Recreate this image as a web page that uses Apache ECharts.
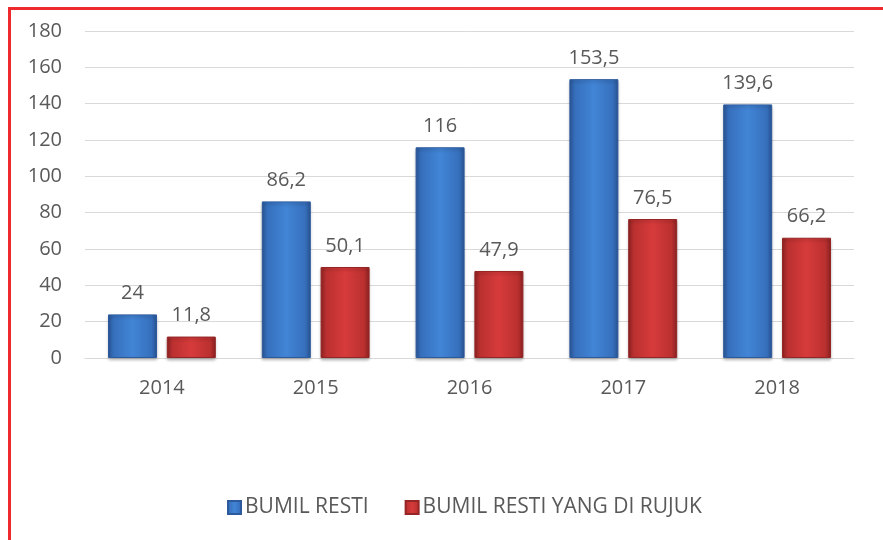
<!DOCTYPE html>
<html>
<head>
<meta charset="utf-8">
<script src="https://cdn.jsdelivr.net/npm/echarts@6/dist/echarts.min.js"></script>
<style>
html,body{margin:0;padding:0;background:#fff;}
#wrap{position:relative;width:883px;height:540px;overflow:hidden;}
#frame{position:absolute;left:8px;top:7px;width:900px;height:560px;border-left:3px solid #ee2a2f;border-top:3px solid #ee2a2f;}
#chart{position:absolute;left:0;top:0;width:883px;height:540px;}
</style>
</head>
<body>
<div id="wrap">
<div id="frame"></div>
<div id="chart"></div>
</div>
<script type="text/javascript">
var years = ['2014', '2015', '2016', '2017', '2018'];
var resti = [24, 86.2, 116, 153.5, 139.6];
var dirujuk = [11.8, 50.1, 47.9, 76.5, 66.2];

var chart = echarts.init(document.getElementById('chart'));

function shade(dark, mid, light) {
    return new echarts.graphic.LinearGradient(0, 0, 1, 0, [
        {offset: 0, color: dark},
        {offset: 0.12, color: mid},
        {offset: 0.5, color: light},
        {offset: 0.88, color: mid},
        {offset: 1, color: dark}
    ]);
}

var labelStyle = {
    show: true,
    position: 'top',
    distance: 11,
    color: '#595959',
    fontSize: 20,
    fontFamily: 'Open Sans',
    formatter: function (p) { return String(p.value).replace('.', ','); }
};

var option = {
    animation: false,
    textStyle: {fontFamily: 'Open Sans'},
    grid: {left: 85, right: 29, top: 31, bottom: 182},
    legend: {
        bottom: 17,
        left: 222,
        itemWidth: 13,
        itemHeight: 13,
        itemGap: 36,
        icon: 'rect',
        textStyle: {color: '#595959', fontSize: 21, fontFamily: 'Open Sans', padding: [0, 0, 0, -1]},
        data: ['BUMIL RESTI', 'BUMIL RESTI YANG DI RUJUK']
    },
    xAxis: {
        type: 'category',
        data: years,
        axisLine: {lineStyle: {color: '#d9d9d9', width: 1}},
        axisTick: {show: false},
        axisLabel: {color: '#595959', fontSize: 20, margin: 20}
    },
    yAxis: {
        type: 'value',
        min: 0,
        max: 180,
        interval: 20,
        axisLine: {show: false},
        axisTick: {show: false},
        axisLabel: {color: '#595959', fontSize: 20, margin: 23},
        splitLine: {lineStyle: {color: '#d9d9d9', width: 1}}
    },
    series: [
        {
            name: 'BUMIL RESTI',
            type: 'bar',
            data: resti,
            barWidth: 49,
            barGap: '20%',
            itemStyle: {
                color: shade('#2a5596', '#3670bd', '#4285d6'),
                borderColor: '#2c5a9c',
                borderWidth: 1,
                shadowColor: 'rgba(0,0,0,0.25)',
                shadowBlur: 3,
                shadowOffsetY: 2
            },
            label: labelStyle
        },
        {
            name: 'BUMIL RESTI YANG DI RUJUK',
            type: 'bar',
            data: dirujuk,
            barWidth: 49,
            itemStyle: {
                color: shade('#8f2222', '#bb3030', '#d73b3b'),
                borderColor: '#962525',
                borderWidth: 1,
                shadowColor: 'rgba(0,0,0,0.25)',
                shadowBlur: 3,
                shadowOffsetY: 2
            },
            label: labelStyle
        }
    ]
};
chart.setOption(option);
</script>
</body>
</html>
